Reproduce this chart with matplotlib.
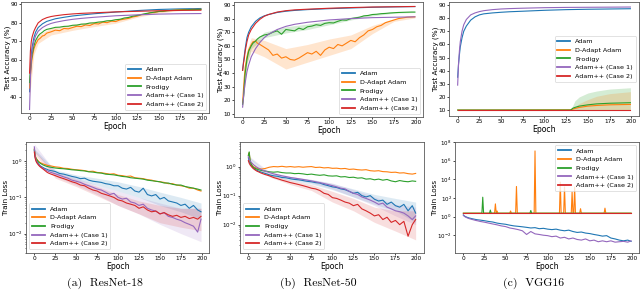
import matplotlib
matplotlib.use('Agg')
import matplotlib.pyplot as plt

# ---- daten ----
LABELS = ['Adam', 'D-Adapt Adam', 'Prodigy', 'Adam++ (Case 1)', 'Adam++ (Case 2)']
COLORS = ['tab:blue', 'tab:orange', 'tab:green', 'tab:purple', 'tab:red']

# epochen-raster fuer verrauschte kurven
EP = [0, 1, 2, 3, 5, 7, 10, 12, 15, 17] + list(range(20, 200, 5)) + [199]
# epochen-raster fuer glatte kurven
ES = [0, 1, 2, 3, 5, 7, 10, 15, 20, 25, 30, 40, 50, 60, 75, 100, 125, 150, 175, 199]
# raster fuer schattierte baender
EB = [0, 25, 50, 75, 100, 125, 150, 175, 199]
EBA = [0, 5, 10, 25, 50, 75, 100, 125, 150, 175, 199]

# (a) ResNet-18, test accuracy
r18_acc_adam = [43, 55, 63, 67, 72, 75, 77.5, 79.5, 80.8, 81.5, 82.2, 83, 83.7, 84.2, 84.9, 85.8, 86.6, 87.2, 87.5, 87.7]
r18_acc_dadapt = [45, 52, 57, 61, 66, 68.5, 71, 71.6, 73, 73.2, 74.5, 75.2, 76.1, 75.8, 77, 76.8, 77.5, 78.2, 78, 78.9, 78.6, 79.6, 79.4,
                  80.4, 80.1, 80.9, 80.7, 81.6, 82, 82.4, 83.2, 83.6, 84.4, 84.6, 85.4, 85.5, 86.1, 86.1, 86.6, 86.6, 86.9, 87, 87.2, 87.1,
                  87.3, 87.2, 87.3]
r18_acc_prodigy = [48, 54, 59, 63, 67.5, 70.5, 73, 74, 75, 75.8, 76.5, 77, 77.6, 77.7, 78.1, 78.2, 78.7, 78.8, 79.3, 79.4, 79.9, 80, 80.4,
                   80.6, 81.1, 81.2, 81.7, 81.9, 82.6, 82.9, 83.6, 84, 84.5, 85, 85.4, 85.8, 86.1, 86.3, 86.5, 86.7, 86.8, 86.9, 87, 87.1,
                   87.1, 87.2, 87.2]
r18_acc_case1 = [33.5, 50, 60, 65, 70, 73, 75.5, 77.5, 78.8, 79.7, 80.3, 81.2, 81.9, 82.4, 83, 83.8, 84.3, 84.7, 84.9, 85]
r18_acc_case2 = [53, 65, 70, 72.5, 75.5, 77.5, 80, 81.8, 82.8, 83.4, 83.8, 84.4, 84.8, 85.1, 85.4, 85.9, 86.2, 86.5, 86.7, 86.8]
r18_band_dadapt_lo = [40, 63, 69, 73.5, 76, 78, 79.8, 83, 85.3, 86.6, 87]
r18_band_dadapt_hi = [50, 69, 73.5, 77.3, 79.2, 80.8, 82.2, 84.8, 86.7, 87.4, 87.6]

# (b) ResNet-50, test accuracy
r50_acc_adam = [42, 48, 53, 58, 66, 70, 74, 78, 80.5, 82, 83, 84.5, 85.4, 86, 86.6, 87.3, 87.8, 88.3, 88.6, 88.8]
r50_acc_dadapt = [18, 28, 37, 44, 52, 57, 61, 63, 63.5, 62, 61, 59, 57, 53, 54, 51, 52, 50, 49.5, 51, 53, 55, 54, 56, 53, 57, 59, 58,
                  61, 60, 62, 64, 63, 66, 68, 71, 72, 74, 75, 77, 78, 79, 80, 80.5, 81, 81.2, 81.3]
r50_acc_prodigy = [17, 22, 31, 40, 50, 56, 60, 62, 63.5, 65, 66.5, 68, 68.5, 70, 71, 68.5, 72, 71.5, 71, 73, 72, 74, 74.5, 75.5, 75, 76.5,
                   77, 76.8, 78, 79, 78.8, 80, 80.5, 81, 82, 82.3, 83, 83.2, 83.6, 83.8, 84.1, 84.3, 84.5, 84.6, 84.7, 84.8, 84.8]
r50_acc_case1 = [15, 22, 28, 33, 41, 46, 52, 58, 62.5, 66, 68.5, 72, 74.3, 75.8, 77.3, 79, 80, 80.7, 81, 81.3]
r50_acc_case2 = [42, 47, 51, 56, 63, 68, 72, 76.5, 79.5, 81.7, 83, 84.8, 85.8, 86.4, 86.9, 87.6, 88.1, 88.5, 88.7, 88.9]
r50_band_dadapt_lo = [15, 47, 56, 52, 43, 48, 53, 58, 69, 78, 80.5]
r50_band_dadapt_hi = [22, 57, 66, 64, 58, 61, 65, 68, 75, 80, 82]
r50_band_prodigy_lo = [15, 47, 58, 66, 69.5, 72, 75.5, 79, 82, 84, 84.5]
r50_band_prodigy_hi = [19, 53, 62, 70, 74, 76, 78.5, 81, 83.5, 85, 85.2]

# (c) VGG16, test accuracy
vgg_acc_adam = [35, 45, 52, 58, 65, 70, 74, 78.5, 81, 82.5, 83.3, 84, 84.5, 84.9, 85.3, 86, 86.5, 86.8, 87, 87.2]
vgg_acc_case1 = [29, 45, 55, 62, 70, 75, 79, 82.5, 84, 85, 85.7, 86.5, 87, 87.3, 87.6, 88, 88.2, 88.3, 88.4, 88.5]
EV = [0, 130, 133, 135, 140, 150, 160, 175, 199]
vgg_acc_dadapt = [10, 10.2, 10.8, 11.2, 12, 13, 13.5, 14, 14.3]
vgg_acc_prodigy = [10, 10, 11.5, 12, 13, 14, 14.7, 15.2, 15.6]
vgg_acc_case2 = [10, 10, 10, 10, 10, 10, 10, 10, 10]
vgg_band_lo = [10, 10, 10, 10, 10, 10, 10, 10, 10]
vgg_band_dadapt_hi = [10, 10, 11.5, 12.5, 15, 18, 20.5, 22.5, 24]
vgg_band_prodigy_hi = [10, 10, 14, 17, 20, 23, 24.5, 26, 27]

# (a) ResNet-18, train loss
r18_loss_adam = [2.0, 1.3, 1.1, 1.0, 0.85, 0.75, 0.68, 0.64, 0.60, 0.57, 0.55, 0.52, 0.46, 0.44, 0.41, 0.38, 0.36, 0.33, 0.34, 0.30,
                 0.28, 0.27, 0.26, 0.24, 0.23, 0.21, 0.21, 0.18, 0.17, 0.19, 0.15, 0.14, 0.18, 0.12, 0.11, 0.12, 0.09, 0.10, 0.08,
                 0.075, 0.07, 0.06, 0.065, 0.05, 0.06, 0.045, 0.04]
r18_loss_dadapt = [2.2, 1.45, 1.25, 1.15, 1.0, 0.92, 0.85, 0.82, 0.78, 0.76, 0.74, 0.70, 0.68, 0.64, 0.63, 0.60, 0.58, 0.57, 0.55,
                   0.52, 0.53, 0.49, 0.48, 0.46, 0.44, 0.45, 0.41, 0.40, 0.38, 0.39, 0.35, 0.34, 0.33, 0.31, 0.30, 0.28, 0.27, 0.26,
                   0.24, 0.24, 0.22, 0.21, 0.20, 0.18, 0.18, 0.16, 0.15]
r18_loss_prodigy = [2.1, 1.4, 1.2, 1.1, 0.95, 0.88, 0.8, 0.76, 0.72, 0.70, 0.68, 0.65, 0.63, 0.62, 0.60, 0.58, 0.57, 0.55, 0.54,
                    0.51, 0.50, 0.48, 0.47, 0.44, 0.43, 0.42, 0.40, 0.38, 0.37, 0.35, 0.34, 0.33, 0.32, 0.30, 0.29, 0.28, 0.27, 0.25,
                    0.25, 0.23, 0.22, 0.22, 0.20, 0.19, 0.18, 0.17, 0.16]
r18_loss_case1 = [2.5, 1.4, 1.1, 0.95, 0.82, 0.72, 0.64, 0.6, 0.55, 0.52, 0.49, 0.45, 0.41, 0.37, 0.34, 0.30, 0.28, 0.26, 0.23, 0.21,
                  0.19, 0.17, 0.16, 0.14, 0.12, 0.13, 0.10, 0.09, 0.095, 0.075, 0.07, 0.06, 0.065, 0.05, 0.045, 0.042, 0.035, 0.038,
                  0.03, 0.028, 0.025, 0.023, 0.02, 0.018, 0.016, 0.011, 0.025]
r18_loss_case2 = [1.8, 1.2, 1.0, 0.9, 0.78, 0.70, 0.62, 0.57, 0.5, 0.47, 0.44, 0.40, 0.36, 0.33, 0.30, 0.27, 0.25, 0.22, 0.21, 0.18,
                  0.16, 0.15, 0.13, 0.12, 0.11, 0.1, 0.085, 0.08, 0.07, 0.065, 0.06, 0.05, 0.055, 0.045, 0.04, 0.042, 0.035, 0.038,
                  0.033, 0.03, 0.032, 0.028, 0.03, 0.026, 0.028, 0.025, 0.03]
r18_band_adam_lo = [1.8, 0.46, 0.3, 0.22, 0.15, 0.1, 0.06, 0.04, 0.025]
r18_band_adam_hi = [2.2, 0.58, 0.42, 0.34, 0.27, 0.2, 0.14, 0.1, 0.07]
r18_band_case1_lo = [2.0, 0.38, 0.22, 0.12, 0.06, 0.035, 0.018, 0.01, 0.006]
r18_band_case1_hi = [3.0, 0.52, 0.34, 0.22, 0.15, 0.1, 0.07, 0.05, 0.05]
r18_band_case2_lo = [1.6, 0.34, 0.2, 0.11, 0.06, 0.035, 0.02, 0.015, 0.012]
r18_band_case2_hi = [2.0, 0.47, 0.31, 0.2, 0.12, 0.08, 0.06, 0.05, 0.05]

# (b) ResNet-50, train loss
r50_loss_adam = [2.0, 1.5, 1.3, 1.15, 0.95, 0.85, 0.75, 0.7, 0.65, 0.62, 0.58, 0.52, 0.48, 0.46, 0.42, 0.41, 0.38, 0.36, 0.35, 0.33,
                 0.31, 0.3, 0.28, 0.27, 0.24, 0.22, 0.2, 0.19, 0.17, 0.16, 0.14, 0.12, 0.13, 0.1, 0.09, 0.1, 0.075, 0.065, 0.07,
                 0.05, 0.06, 0.045, 0.04, 0.05, 0.03, 0.045, 0.025]
r50_loss_dadapt = [2.5, 3.0, 1.6, 1.3, 1.05, 0.95, 0.88, 0.85, 0.82, 0.83, 0.86, 0.95, 1.0, 0.98, 1.02, 0.97, 1.0, 0.96, 0.99, 0.95,
                   0.98, 1.0, 0.93, 0.95, 0.9, 0.92, 0.87, 0.88, 0.84, 0.86, 0.8, 0.82, 0.78, 0.76, 0.78, 0.72, 0.7, 0.72, 0.67,
                   0.66, 0.63, 0.64, 0.6, 0.61, 0.57, 0.55, 0.58]
r50_loss_prodigy = [2.4, 3.2, 1.7, 1.3, 1.0, 0.9, 0.82, 0.78, 0.74, 0.72, 0.7, 0.66, 0.64, 0.66, 0.62, 0.6, 0.6, 0.57, 0.58, 0.56,
                    0.53, 0.55, 0.52, 0.5, 0.52, 0.48, 0.47, 0.48, 0.44, 0.45, 0.42, 0.43, 0.4, 0.41, 0.37, 0.38, 0.35, 0.37, 0.34,
                    0.36, 0.32, 0.3, 0.33, 0.31, 0.3, 0.32, 0.31]
r50_loss_case1 = [2.2, 1.8, 1.6, 1.45, 1.25, 1.1, 0.95, 0.88, 0.8, 0.75, 0.7, 0.62, 0.56, 0.52, 0.48, 0.45, 0.42, 0.4, 0.38, 0.36,
                  0.34, 0.32, 0.3, 0.28, 0.26, 0.24, 0.22, 0.2, 0.18, 0.17, 0.14, 0.12, 0.11, 0.09, 0.08, 0.07, 0.06, 0.05, 0.055,
                  0.04, 0.035, 0.03, 0.028, 0.025, 0.02, 0.015, 0.02]
r50_loss_case2 = [1.6, 1.3, 1.15, 1.05, 0.9, 0.8, 0.7, 0.66, 0.6, 0.57, 0.53, 0.48, 0.42, 0.38, 0.34, 0.31, 0.28, 0.26, 0.24, 0.22,
                  0.2, 0.18, 0.17, 0.15, 0.12, 0.11, 0.085, 0.08, 0.07, 0.06, 0.055, 0.045, 0.05, 0.035, 0.03, 0.025, 0.02, 0.022,
                  0.015, 0.018, 0.012, 0.014, 0.01, 0.013, 0.004, 0.01, 0.015]
r50_band_adam_lo = [1.8, 0.48, 0.33, 0.25, 0.16, 0.09, 0.05, 0.03, 0.012]
r50_band_adam_hi = [2.2, 0.58, 0.45, 0.36, 0.26, 0.17, 0.11, 0.08, 0.06]
r50_band_case1_lo = [2.0, 0.58, 0.38, 0.28, 0.17, 0.09, 0.045, 0.02, 0.01]
r50_band_case1_hi = [2.4, 0.66, 0.46, 0.36, 0.27, 0.16, 0.09, 0.05, 0.04]
r50_band_case2_lo = [1.5, 0.44, 0.24, 0.15, 0.06, 0.03, 0.012, 0.006, 0.003]
r50_band_case2_hi = [1.7, 0.54, 0.34, 0.24, 0.14, 0.08, 0.04, 0.03, 0.03]

# (c) VGG16, train loss
vgg_loss_adam = [1.5, 1.2, 1.05, 0.95, 0.8, 0.7, 0.6, 0.55, 0.48, 0.45, 0.42, 0.36, 0.3, 0.26, 0.2, 0.17, 0.15, 0.12, 0.1, 0.09,
                 0.08, 0.07, 0.06, 0.065, 0.05, 0.055, 0.045, 0.04, 0.045, 0.035, 0.03, 0.035, 0.025, 0.02, 0.022, 0.017, 0.015,
                 0.012, 0.01, 0.008, 0.009, 0.005, 0.004, 0.003, 0.0025, 0.003, 0.0022]
vgg_loss_case1 = [1.4, 1.1, 0.95, 0.85, 0.7, 0.6, 0.5, 0.45, 0.38, 0.35, 0.3, 0.25, 0.2, 0.16, 0.13, 0.1, 0.085, 0.06, 0.05, 0.04,
                  0.03, 0.012, 0.025, 0.014, 0.012, 0.01, 0.009, 0.007, 0.008, 0.005, 0.006, 0.004, 0.005, 0.0035, 0.003, 0.004,
                  0.0025, 0.003, 0.002, 0.0025, 0.002, 0.0025, 0.0018, 0.002, 0.0022, 0.0018, 0.0025]
vgg_loss_flat = 2.3
vgg_dadapt_spike_ep = [38, 40, 56, 63, 85, 115, 120, 129, 132, 139, 168]
vgg_dadapt_spike_val = [23, 4, 4, 1700, 1.1e7, 5000, 1500, 430, 1500, 7, 8]
vgg_prodigy_spike_ep = [23, 32, 80]
vgg_prodigy_spike_val = [120, 5, 4.5]


def spiky(epochs, peaks, base):
	# flache linie mit einzelnen ausreissern
	xs, ys = [0], [base]
	for e, p in zip(epochs, peaks):
		xs += [e - 1, e, e + 1]
		ys += [base, p, base]
	xs.append(199)
	ys.append(base)
	return xs, ys


def style_axis(ax, ylabel, label_x, ysize=4.2):
	ax.set_xlim(-9.95, 208.95)
	ax.set_xticks([0, 25, 50, 75, 100, 125, 150, 175, 200])
	ax.set_xlabel('Epoch', fontsize=5.6, labelpad=0.5)
	ax.set_ylabel(ylabel, fontsize=5.2)
	ax.yaxis.set_label_coords(label_x, 0.5)
	ax.tick_params(labelsize=4.2, length=1.6, width=0.5, pad=0.8)
	ax.tick_params(axis='y', labelsize=ysize)
	ax.tick_params(which='minor', length=1.0, width=0.4)
	for s in ax.spines.values():
		s.set_linewidth(0.6)
		s.set_color('0.35')


def add_legend(ax, loc):
	leg = ax.legend(loc=loc, fontsize=4.6, frameon=True, borderpad=0.45, handlelength=2.0)
	for h in leg.get_lines():
		h.set_linewidth(1.3)
	leg.get_frame().set_linewidth(0.5)


fig = plt.figure(figsize=(6.4, 2.9), dpi=100)

ax_a1 = fig.add_axes([0.0328, 0.6103, 0.2945, 0.3828])
ax_b1 = fig.add_axes([0.3656, 0.5966, 0.2961, 0.3966])
ax_c1 = fig.add_axes([0.7016, 0.6010, 0.2969, 0.3920])
ax_a2 = fig.add_axes([0.0406, 0.1293, 0.2865, 0.3810])
ax_b2 = fig.add_axes([0.3750, 0.1293, 0.2875, 0.3810])
ax_c2 = fig.add_axes([0.7109, 0.1293, 0.2883, 0.3810])

LW = 0.8

# ---- (a) ResNet-18 Genauigkeit ----
ax = ax_a1
ax.fill_between(EBA, r18_band_dadapt_lo, r18_band_dadapt_hi, color=COLORS[1], alpha=0.2, lw=0)
ax.plot(ES, r18_acc_adam, color=COLORS[0], lw=LW, label=LABELS[0])
ax.plot(EP, r18_acc_dadapt, color=COLORS[1], lw=LW, label=LABELS[1])
ax.plot(EP, r18_acc_prodigy, color=COLORS[2], lw=LW, label=LABELS[2])
ax.plot(ES, r18_acc_case1, color=COLORS[3], lw=LW, label=LABELS[3])
ax.plot(ES, r18_acc_case2, color=COLORS[4], lw=LW, label=LABELS[4])
ax.set_ylim(31.6, 91.2)
ax.set_yticks([40, 50, 60, 70, 80, 90])
style_axis(ax, 'Test Accuracy (%)', -0.054)
add_legend(ax, 'lower right')

# ---- (b) ResNet-50 Genauigkeit ----
ax = ax_b1
ax.fill_between(EBA, r50_band_dadapt_lo, r50_band_dadapt_hi, color=COLORS[1], alpha=0.2, lw=0)
ax.fill_between(EBA, r50_band_prodigy_lo, r50_band_prodigy_hi, color=COLORS[2], alpha=0.2, lw=0)
ax.plot(ES, r50_acc_adam, color=COLORS[0], lw=LW, label=LABELS[0])
ax.plot(EP, r50_acc_dadapt, color=COLORS[1], lw=LW, label=LABELS[1])
ax.plot(EP, r50_acc_prodigy, color=COLORS[2], lw=LW, label=LABELS[2])
ax.plot(ES, r50_acc_case1, color=COLORS[3], lw=LW, label=LABELS[3])
ax.plot(ES, r50_acc_case2, color=COLORS[4], lw=LW, label=LABELS[4])
ax.set_ylim(7.8, 92.2)
ax.set_yticks([10, 20, 30, 40, 50, 60, 70, 80, 90])
style_axis(ax, 'Test Accuracy (%)', -0.054)
add_legend(ax, 'lower right')

# ---- (c) VGG16 Genauigkeit ----
ax = ax_c1
ax.fill_between(EV, vgg_band_lo, vgg_band_prodigy_hi, color=COLORS[2], alpha=0.2, lw=0)
ax.fill_between(EV, vgg_band_lo, vgg_band_dadapt_hi, color=COLORS[1], alpha=0.2, lw=0)
ax.plot(ES, vgg_acc_adam, color=COLORS[0], lw=LW, label=LABELS[0])
ax.plot(EV, vgg_acc_dadapt, color=COLORS[1], lw=LW, label=LABELS[1])
ax.plot(EV, vgg_acc_prodigy, color=COLORS[2], lw=LW, label=LABELS[2])
ax.plot(ES, vgg_acc_case1, color=COLORS[3], lw=LW, label=LABELS[3])
ax.plot(EV, vgg_acc_case2, color=COLORS[4], lw=LW, label=LABELS[4])
ax.set_ylim(5.7, 92.3)
ax.set_yticks([10, 20, 30, 40, 50, 60, 70, 80, 90])
style_axis(ax, 'Test Accuracy (%)', -0.054)
add_legend(ax, 'center right')

# ---- (a) ResNet-18 Verlust ----
ax = ax_a2
ax.set_yscale('log')
ax.fill_between(EB, r18_band_adam_lo, r18_band_adam_hi, color=COLORS[0], alpha=0.15, lw=0)
ax.fill_between(EB, r18_band_case1_lo, r18_band_case1_hi, color=COLORS[3], alpha=0.15, lw=0)
ax.fill_between(EB, r18_band_case2_lo, r18_band_case2_hi, color=COLORS[4], alpha=0.15, lw=0)
ax.plot(EP, r18_loss_adam, color=COLORS[0], lw=LW, label=LABELS[0])
ax.plot(EP, r18_loss_dadapt, color=COLORS[1], lw=LW, label=LABELS[1])
ax.plot(EP, r18_loss_prodigy, color=COLORS[2], lw=LW, label=LABELS[2])
ax.plot(EP, r18_loss_case1, color=COLORS[3], lw=LW, label=LABELS[3])
ax.plot(EP, r18_loss_case2, color=COLORS[4], lw=LW, label=LABELS[4])
ax.set_ylim(0.003, 3.4)
style_axis(ax, 'Train Loss', -0.093, 4.0)
add_legend(ax, 'lower left')

# ---- (b) ResNet-50 Verlust ----
ax = ax_b2
ax.set_yscale('log')
ax.fill_between(EB, r50_band_adam_lo, r50_band_adam_hi, color=COLORS[0], alpha=0.15, lw=0)
ax.fill_between(EB, r50_band_case1_lo, r50_band_case1_hi, color=COLORS[3], alpha=0.15, lw=0)
ax.fill_between(EB, r50_band_case2_lo, r50_band_case2_hi, color=COLORS[4], alpha=0.15, lw=0)
ax.plot(EP, r50_loss_adam, color=COLORS[0], lw=LW, label=LABELS[0])
ax.plot(EP, r50_loss_dadapt, color=COLORS[1], lw=LW, label=LABELS[1])
ax.plot(EP, r50_loss_prodigy, color=COLORS[2], lw=LW, label=LABELS[2])
ax.plot(EP, r50_loss_case1, color=COLORS[3], lw=LW, label=LABELS[3])
ax.plot(EP, r50_loss_case2, color=COLORS[4], lw=LW, label=LABELS[4])
ax.set_ylim(1.1e-3, 7)
style_axis(ax, 'Train Loss', -0.09, 4.0)
add_legend(ax, 'lower left')

# ---- (c) VGG16 Verlust ----
ax = ax_c2
ax.set_yscale('log')
dx, dy = spiky(vgg_dadapt_spike_ep, vgg_dadapt_spike_val, vgg_loss_flat)
px, py = spiky(vgg_prodigy_spike_ep, vgg_prodigy_spike_val, vgg_loss_flat)
ax.plot(EP, vgg_loss_adam, color=COLORS[0], lw=LW, label=LABELS[0])
ax.plot(dx, dy, color=COLORS[1], lw=LW, label=LABELS[1])
ax.plot(px, py, color=COLORS[2], lw=LW, label=LABELS[2])
ax.plot(EP, vgg_loss_case1, color=COLORS[3], lw=LW, label=LABELS[3])
ax.plot([0, 199], [vgg_loss_flat, vgg_loss_flat], color=COLORS[4], lw=LW, label=LABELS[4])
ax.set_ylim(1.4e-4, 1e8)
ax.set_yticks([1e-2, 1, 1e2, 1e4, 1e6, 1e8])
style_axis(ax, 'Train Loss', -0.09, 4.0)
add_legend(ax, 'upper right')

# ---- Unterschriften ----
fig.text(0.164, 0.024, '(a)  ResNet-18', family='cmr10', fontsize=8.5, ha='center', va='center')
fig.text(0.498, 0.024, '(b)  ResNet-50', family='cmr10', fontsize=8.5, ha='center', va='center')
fig.text(0.833, 0.024, '(c)  VGG16', family='cmr10', fontsize=8.5, ha='center', va='center')

fig.savefig('out.png', dpi=100)
plt.close(fig)
